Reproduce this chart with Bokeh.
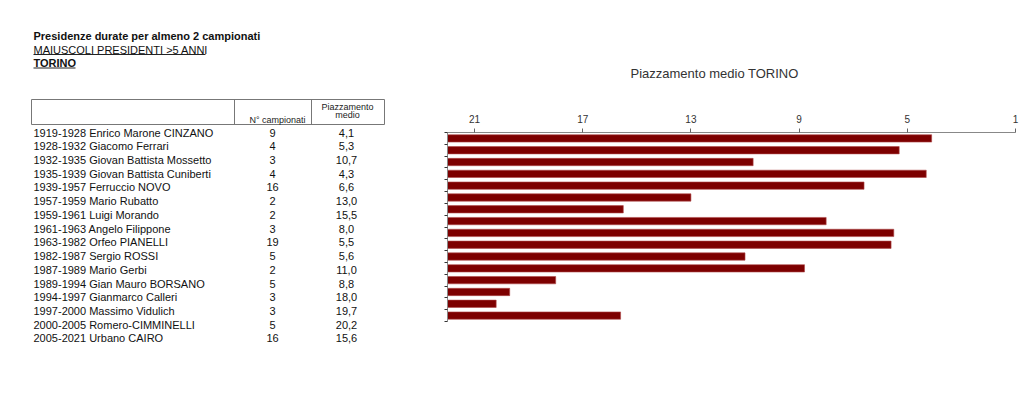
from bokeh.plotting import figure
from bokeh.layouts import row
from bokeh.models import Range1d, FixedTicker, ColumnDataSource
from bokeh.embed import file_html
from bokeh.resources import INLINE
from bokeh.core.properties import value

# ---------------- data ----------------
periodi = ["1919-1928", "1928-1932", "1932-1935", "1935-1939", "1939-1957",
           "1957-1959", "1959-1961", "1961-1963", "1963-1982", "1982-1987",
           "1987-1989", "1989-1994", "1994-1997", "1997-2000", "2000-2005",
           "2005-2021"]
presidenti = ["Enrico Marone CINZANO", "Giacomo Ferrari", "Giovan Battista Mossetto",
              "Giovan Battista Cuniberti", "Ferruccio NOVO", "Mario Rubatto",
              "Luigi Morando", "Angelo Filippone", "Orfeo PIANELLI", "Sergio ROSSI",
              "Mario Gerbi", "Gian Mauro BORSANO", "Gianmarco Calleri",
              "Massimo Vidulich", "Romero-CIMMINELLI", "Urbano CAIRO"]
campionati = [9, 4, 3, 4, 16, 2, 2, 3, 19, 5, 2, 5, 3, 3, 5, 16]
piazzamento = [4.1, 5.3, 10.7, 4.3, 6.6, 13.0, 15.5, 8.0, 5.5, 5.6, 11.0, 8.8,
               18.0, 19.7, 20.2, 15.6]
x_ticks = [21, 17, 13, 9, 5, 1]
titolo = "Presidenze durate per almeno 2 campionati"
sottotitolo = "MAIUSCOLI PRESIDENTI >5 ANNI"
squadra = "TORINO"
chart_title = "Piazzamento medio TORINO"
col_headers = ["N° campionati", "Piazzamento", "medio"]

FONT = value("Liberation Sans")
H = 400
n = len(periodi)
TXT = "#111111"

# ---------------- table figure ----------------
TW = 420
tbl = figure(width=TW, height=H, x_range=Range1d(0, TW), y_range=Range1d(H, 0),
             output_backend="svg", toolbar_location=None,
             x_axis_location=None, y_axis_location=None, min_border=0)
tbl.frame_align = False
tbl.outline_line_color = None
tbl.grid.visible = False

row_y = [132 + i * 13.73 for i in range(n)]
labels = [f"{p} {nm}" for p, nm in zip(periodi, presidenti)]
pz_txt = [f"{v:.1f}".replace(".", ",") for v in piazzamento]
src = ColumnDataSource(dict(y=row_y, lab=labels, camp=[str(c) for c in campionati],
                            pz=pz_txt))
tbl.text(x=33, y="y", text="lab", source=src, text_font=FONT, text_font_size="11px",
         text_baseline="middle", text_align="left", text_color=TXT)
tbl.text(x=272, y="y", text="camp", source=src, text_font=FONT, text_font_size="11px",
         text_baseline="middle", text_align="center", text_color=TXT)
tbl.text(x=346, y="y", text="pz", source=src, text_font=FONT, text_font_size="11px",
         text_baseline="middle", text_align="center", text_color=TXT)

# headings
tbl.text(x=[33], y=[35.5], text=[titolo], text_font=FONT, text_font_size="11px",
         text_font_style="bold", text_baseline="middle", text_color=TXT)
tbl.text(x=[33], y=[49], text=[sottotitolo], text_font=FONT, text_font_size="11px",
         text_baseline="middle", text_color=TXT)
tbl.text(x=[33], y=[62.5], text=[squadra], text_font=FONT, text_font_size="11px",
         text_font_style="bold", text_baseline="middle", text_color=TXT)
tbl.segment(x0=[33, 33], y0=[54, 67.5], x1=[205, 75], y1=[54, 67.5],
            line_color="#222222", line_width=1)

# header box
tbl.quad(left=[31], right=[384], top=[99], bottom=[124], fill_color=None,
         line_color="#777777", line_width=1)
tbl.segment(x0=[234, 311], y0=[99, 99], x1=[234, 311], y1=[124, 124],
            line_color="#777777", line_width=1)
tbl.text(x=[277], y=[119], text=[col_headers[0]], text_font=FONT, text_font_size="9px",
         text_baseline="middle", text_align="center", text_color="#222222")
tbl.text(x=[347, 347], y=[106, 114.5], text=col_headers[1:], text_font=FONT,
         text_font_size="9px", text_baseline="middle", text_align="center",
         text_color="#222222")

# ---------------- chart figure ----------------
CW = 600
chart = figure(width=CW, height=H, x_range=Range1d(22, 1), y_range=Range1d(n, 0),
               output_backend="svg", toolbar_location=None,
               x_axis_location="above", y_axis_location="left",
               min_border_left=27, min_border_right=5, min_border_top=132,
               min_border_bottom=H - 321, title=chart_title)
chart.frame_align = False
chart.outline_line_color = None
chart.grid.visible = False
chart.title.align = "left"
chart.title.offset = 183
chart.title.standoff = 62
chart.title.text_font = "Liberation Sans"
chart.title.text_font_size = "13px"
chart.title.text_font_style = "normal"
chart.title.text_color = "#333333"

bsrc = ColumnDataSource(dict(y=[i + 0.5 for i in range(n)], v=piazzamento))
chart.hbar(y="y", left=22, right="v", height=0.62, source=bsrc,
           fill_color="#7d0000", line_color="#b04a4a", line_width=0.6)

xa = chart.xaxis[0]
xa.ticker = FixedTicker(ticks=x_ticks)
xa.axis_line_color = "#888888"
xa.major_tick_line_color = "#666666"
xa.major_tick_out = 4
xa.major_tick_in = 0
xa.minor_tick_line_color = None
xa.major_label_text_font = "Liberation Sans"
xa.major_label_text_font_size = "10px"
xa.major_label_text_color = "#333333"
xa.major_label_standoff = 6

ya = chart.yaxis[0]
ya.ticker = FixedTicker(ticks=[], minor_ticks=list(range(n + 1)))
ya.axis_line_color = "#888888"
ya.major_tick_line_color = None
ya.minor_tick_line_color = "#333333"
ya.minor_tick_out = 3
ya.minor_tick_in = 0

layout = row(tbl, chart)
open("out.html", "w").write(file_html(layout, INLINE))
